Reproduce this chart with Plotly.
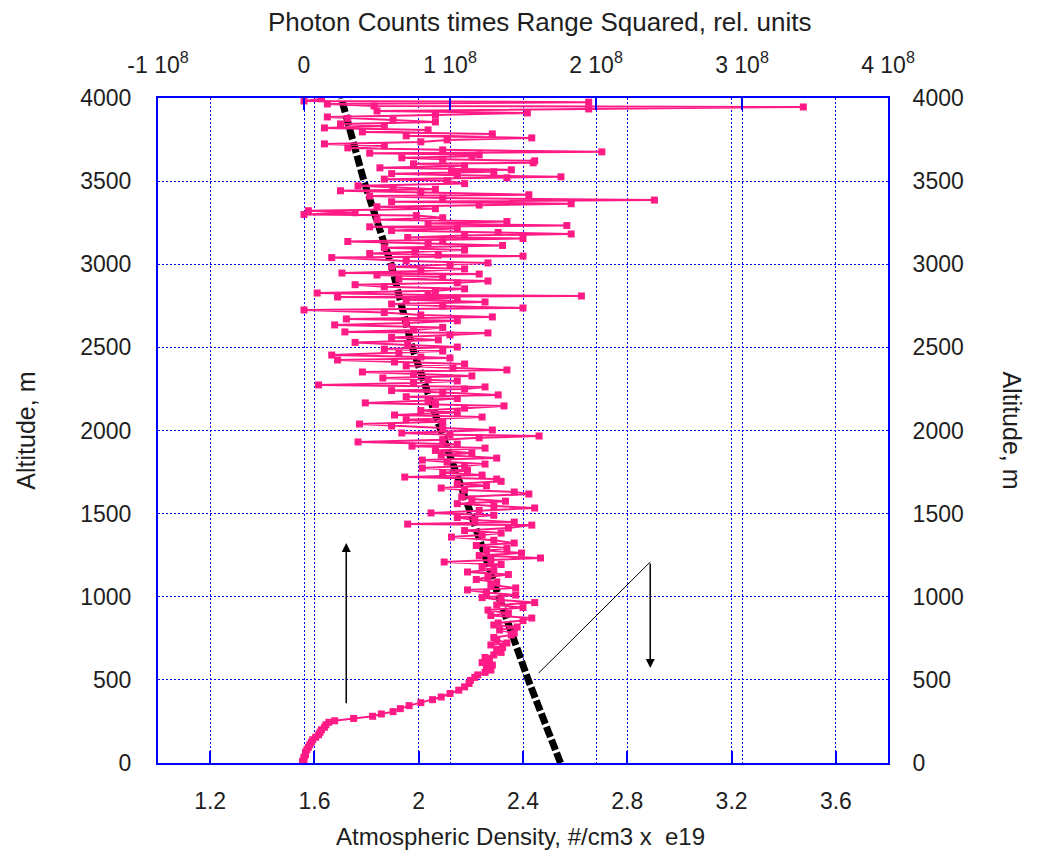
import plotly.graph_objects as go

# ---- Atmospheric density profile (bottom axis, #/cm3 x e19) ----
DENSITY_ALT_M = [0, 500, 1000, 1500, 2000, 2500, 3000, 3500, 4000]
DENSITY_E19 = [2.544, 2.42, 2.307, 2.20, 2.085, 1.975, 1.894, 1.79, 1.703]

# ---- Lidar return: photon counts x range^2 (top axis, units of 1e8) ----
PCR_ALT_M = [
    0, 10, 20, 35, 50, 65, 80, 95, 110, 125, 140, 155, 170, 185, 200, 215, 230, 245,
    254, 268, 281, 295, 309, 327, 345, 363, 381, 397, 418, 438, 458, 478, 497, 515,
    530, 545, 559, 574, 589, 604, 620, 635, 650, 665, 680,
    695, 710, 722, 740, 755, 770, 782, 800, 818, 830, 842, 857, 872, 887, 900, 920,
    935, 950, 965, 980, 995,
    1010, 1025, 1041, 1053, 1070, 1089, 1104, 1119, 1134, 1149,
    1164, 1179, 1194, 1209, 1221, 1233, 1248, 1263, 1278, 1293,
    1308, 1323, 1340, 1359, 1371, 1383, 1398, 1413, 1431, 1437,
    1449, 1461, 1476, 1490, 1504, 1519, 1534, 1546, 1560, 1575,
    1588, 1600, 1618, 1630, 1642, 1654, 1667, 1680, 1694, 1708,
    1720, 1732, 1746, 1760, 1774, 1786, 1798, 1810, 1822, 1834,
    1852, 1865, 1880, 1894, 1906, 1918, 1931, 1945, 1956, 1967,
    1975, 1985,
    2003, 2015, 2027, 2039, 2052, 2065, 2081, 2093, 2108, 2120,
    2134, 2148, 2157, 2166, 2180, 2192, 2203, 2214, 2228, 2240,
    2250, 2262, 2274, 2286, 2298, 2306, 2316, 2328, 2340, 2352,
    2364, 2376, 2388, 2400, 2412, 2424, 2436, 2442, 2454, 2466,
    2478, 2490, 2502, 2514, 2530, 2545, 2560, 2575, 2587, 2593,
    2605, 2620, 2635, 2647, 2660, 2671, 2683, 2695, 2710, 2725,
    2737, 2749, 2761, 2773, 2786, 2797, 2803, 2809, 2815, 2827,
    2840, 2852, 2865, 2877, 2888, 2899, 2911, 2923, 2935, 2941,
    2947, 2960, 2972, 2985, 2997,
    3008, 3020, 3040, 3049, 3055, 3065, 3073, 3085, 3100, 3113,
    3125, 3137, 3148, 3155, 3161, 3173, 3182, 3191, 3203, 3215,
    3225, 3233, 3245, 3257, 3268, 3280, 3293, 3299, 3310, 3322,
    3334, 3346, 3356, 3364, 3376, 3386, 3398, 3410, 3418, 3430,
    3442, 3451, 3460, 3472, 3485, 3502, 3512, 3520, 3526, 3535,
    3545, 3556, 3562, 3568, 3580, 3592, 3604, 3610, 3622, 3631,
    3640, 3650, 3658, 3668, 3676, 3688, 3700, 3712, 3724, 3736,
    3748, 3760, 3772, 3784, 3796, 3808, 3820, 3832, 3844, 3856,
    3868, 3877, 3886, 3898, 3910, 3922, 3934, 3946, 3952, 3964,
    3975, 3982, 3995,
]
PCR_E8 = [
    -0.01, -0.01, 0.00, 0.00, 0.01, 0.01, 0.02, 0.03, 0.04, 0.05, 0.06, 0.08, 0.10, 0.11, 0.12, 0.14, 0.15, 0.17,
    0.21, 0.34, 0.47, 0.53, 0.61, 0.66, 0.72, 0.80, 0.88, 0.94, 1.00, 1.06, 1.10, 1.13, 1.14, 1.17,
    1.19, 1.24, 1.28, 1.25, 1.29, 1.22, 1.27, 1.24, 1.30, 1.35, 1.32,
    1.36, 1.28, 1.39, 1.32, 1.30, 1.42, 1.44, 1.34, 1.46, 1.30, 1.33, 1.50, 1.56, 1.28, 1.40, 1.26,
    1.50, 1.32, 1.58, 1.35, 1.22,
    1.45, 1.25, 1.12, 1.45, 1.28, 1.32, 1.18, 1.26, 1.40, 1.12,
    1.30, 1.22, 1.35, 0.96, 1.28, 1.62, 1.20, 1.49, 1.25, 1.39,
    1.18, 1.44, 1.30, 1.01, 1.22, 1.35, 1.10, 1.40, 1.56, 0.71,
    1.44, 1.17, 1.05, 1.30, 0.87, 1.20, 1.58, 1.30, 1.05, 1.38,
    1.15, 1.08, 1.54, 1.44, 1.10, 0.94, 1.25, 1.05, 1.35, 1.32,
    0.69, 1.22, 0.95, 1.12, 0.81, 1.10, 1.24, 0.98, 0.81, 1.32,
    0.94, 1.15, 0.90, 1.24, 0.74, 1.05, 0.37, 0.95, 1.20, 1.61,
    1.00, 0.67,
    1.29, 0.95, 0.60, 0.38, 0.95, 0.70, 1.22, 0.62, 1.05, 0.80,
    1.10, 1.37, 0.90, 0.42, 0.85, 1.05, 0.70, 1.33, 0.95, 0.60,
    1.10, 1.24, 0.10, 0.75, 1.05, 0.85, 0.54, 1.15, 0.75, 0.40,
    1.39, 1.02, 0.70, 1.10, 0.62, 0.23, 1.00, 0.80, 0.19, 0.65,
    0.95, 0.55, 1.05, 0.71, 0.35, 0.92, 0.60, 1.00, 1.26, 0.28,
    0.75, 0.95, 0.21, 0.70, 1.05, 0.29, 1.29, 0.80, 0.55, 0.00,
    1.50, 0.95, 0.60, 1.24, 0.70, 1.05, 0.23, 1.90, 0.85, 0.09,
    0.90, 1.10, 0.55, 0.35, 1.05, 1.26, 0.65, 0.95, 0.50, 1.20,
    0.26, 0.80, 1.10, 0.60, 1.00,
    1.26, 0.70, 0.19, 1.50, 0.92, 0.45, 0.76, 1.10, 0.55, 1.36,
    0.85, 0.30, 0.95, 1.50, 0.71, 1.10, 1.83, 1.33, 0.60, 1.05,
    0.45, 1.80, 0.85, 1.39, 0.50, 0.95, 0.77, 0.00, 0.35, 0.03,
    0.90, 0.50, 1.20, 1.83, 0.60, 2.40, 0.95, 0.45, 1.54, 0.80,
    0.25, 0.90, 0.61, 0.37, 1.10, 0.98, 0.55, 1.39, 1.76, 1.05,
    0.60, 1.30, 1.01, 1.42, 0.52, 1.10, 0.75, 1.57, 1.58, 0.95,
    0.67, 1.15, 1.20, 0.45, 2.04, 0.95, 0.30, 0.55, 0.14, 0.80,
    0.98, 1.56, 0.70, 1.29, 0.40, 0.85, 0.14, 0.55, 0.25, 0.90,
    0.61, 0.30, 0.16, 0.90, 1.53, 0.50, 1.95, 3.42, 0.48, 0.16,
    1.95, 0.00, 0.12,
]
assert len(PCR_ALT_M) == len(PCR_E8)

# ---- Axis ticks ----
DENSITY_TICKS = [1.2, 1.6, 2.0, 2.4, 2.8, 3.2, 3.6]
DENSITY_TICK_TEXT = ["1.2", "1.6", "2", "2.4", "2.8", "3.2", "3.6"]
PCR_TICKS = [-1, 0, 1, 2, 3, 4]
PCR_TICK_TEXT = ["-1 10<sup>8</sup>", "0", "1 10<sup>8</sup>", "2 10<sup>8</sup>",
                 "3 10<sup>8</sup>", "4 10<sup>8</sup>"]
ALT_TICKS = [0, 500, 1000, 1500, 2000, 2500, 3000, 3500, 4000]

BLUE = "#0000ff"
PINK = "#ff1a85"
FONT = "Liberation Sans, Arial, sans-serif"
TXT = "#1e1e1e"
TICK_FONT = dict(family=FONT, size=23, color=TXT)

fig = go.Figure()

fig.add_trace(go.Scatter(
    x=PCR_E8, y=PCR_ALT_M, xaxis="x2", yaxis="y",
    mode="lines+markers",
    line=dict(color=PINK, width=2),
    marker=dict(symbol="square", size=7, color=PINK),
    showlegend=False, hoverinfo="skip",
))

fig.add_trace(go.Scatter(
    x=DENSITY_E19, y=DENSITY_ALT_M, xaxis="x", yaxis="y",
    mode="lines",
    line=dict(color="black", width=7, dash="11px,3px"),
    showlegend=False, hoverinfo="skip",
))

# invisible trace to activate the right-hand altitude axis
fig.add_trace(go.Scatter(x=[None], y=[None], xaxis="x", yaxis="y2",
                         showlegend=False, hoverinfo="skip"))

grid = dict(showgrid=True, gridcolor=BLUE, gridwidth=1, griddash="2px,2px")
tickstyle = dict(ticks="inside", ticklen=12, tickwidth=2, tickcolor=BLUE,
                 tickfont=TICK_FONT)

fig.update_layout(
    width=1038, height=859,
    margin=dict(l=158, r=150, t=98, b=96),
    paper_bgcolor="white", plot_bgcolor="white",
    font=dict(family=FONT, size=23, color=TXT),
    xaxis=dict(
        range=[1.0, 3.8], tickvals=DENSITY_TICKS, ticktext=DENSITY_TICK_TEXT,
        showline=True, linecolor=BLUE, linewidth=2, zeroline=False,
        ticklabelstandoff=16, **grid, **tickstyle,
    ),
    xaxis2=dict(
        range=[-1, 4], tickvals=PCR_TICKS, ticktext=PCR_TICK_TEXT,
        overlaying="x", side="top", anchor="y",
        showline=True, linecolor=BLUE, linewidth=2, zeroline=False,
        ticklabelstandoff=14, **grid, **tickstyle,
    ),
    yaxis=dict(
        range=[0, 4000], tickvals=ALT_TICKS,
        showline=True, linecolor=BLUE, linewidth=2, zeroline=False,
        ticks="", ticklabelstandoff=20, tickfont=TICK_FONT,
        **grid,
    ),
    yaxis2=dict(
        range=[0, 4000], tickvals=ALT_TICKS, overlaying="y", side="right",
        anchor="x", showline=True, linecolor=BLUE, linewidth=2,
        showgrid=False, zeroline=False, ticks="", ticklabelstandoff=18,
        tickfont=TICK_FONT,
    ),
)

# axis titles
fig.add_annotation(text="Atmospheric Density, #/cm3 x  e19", xref="paper", yref="paper",
                   x=0.496, y=-0.11, showarrow=False, xanchor="center", yanchor="middle",
                   font=dict(family=FONT, size=24, color=TXT))
fig.add_annotation(text="Photon Counts times Range Squared, rel. units", xref="paper", yref="paper",
                   x=0.523, y=1.114, showarrow=False, xanchor="center", yanchor="middle",
                   font=dict(family=FONT, size=26, color=TXT))
fig.add_annotation(text="Altitude, m", xref="paper", yref="paper",
                   x=-0.182, y=0.5, showarrow=False, textangle=-90,
                   xanchor="center", yanchor="middle",
                   font=dict(family=FONT, size=25, color=TXT))
fig.add_annotation(text="Altitude, m", xref="paper", yref="paper",
                   x=1.170, y=0.5, showarrow=False, textangle=90,
                   xanchor="center", yanchor="middle",
                   font=dict(family=FONT, size=25, color=TXT))

# upward arrow: lidar profile read against the top axis
fig.add_annotation(x=1.722, y=1323, ax=1.722, ay=350, xref="x", yref="y",
                   axref="x", ayref="y", showarrow=True, text="",
                   arrowhead=2, arrowsize=1.2, arrowwidth=1.5, arrowcolor="black")
# pointer from density curve to a downward arrow: density read against bottom axis
fig.add_shape(type="line", xref="x", yref="y", x0=2.46, y0=541, x1=2.888, y1=1209,
              line=dict(color="black", width=1))
fig.add_annotation(x=2.888, y=571, ax=2.888, ay=1209, xref="x", yref="y",
                   axref="x", ayref="y", showarrow=True, text="",
                   arrowhead=2, arrowsize=1.2, arrowwidth=1.5, arrowcolor="black")

fig.write_html("out.html")
